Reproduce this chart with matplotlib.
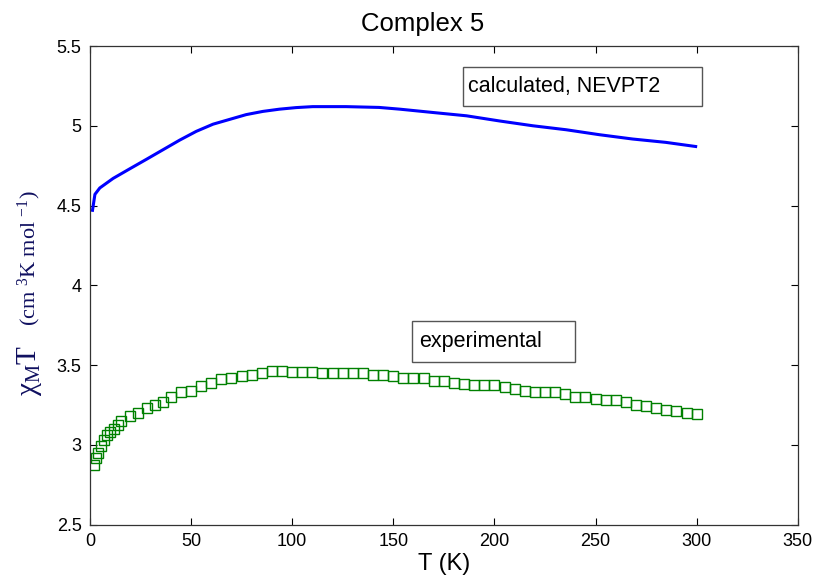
import numpy as np
import matplotlib
matplotlib.use('Agg')
import matplotlib.pyplot as plt
from matplotlib.patches import Rectangle

plt.rcParams['font.family'] = ['Liberation Sans', 'DejaVu Sans']
plt.rcParams['mathtext.fontset'] = 'custom'
plt.rcParams['mathtext.rm'] = 'Liberation Serif'
plt.rcParams['mathtext.it'] = 'Liberation Serif:italic'

# measured chi*T vs temperature
T_exp = [1.8, 3, 4, 5.4, 6.8, 8.4, 10, 12, 13.7, 15.3,
         20, 24, 28, 32, 36, 40, 45, 50, 55, 60, 65, 70, 75, 80, 85, 90,
         95, 100, 105, 110, 115, 120, 125, 130, 135, 140, 145, 150, 155,
         160, 165, 170, 175, 180, 185, 190, 195, 200, 205, 210, 215, 220,
         225, 230, 235, 240, 245, 250, 255, 260, 265, 270, 275, 280, 285,
         290, 295, 300]
chiT_exp = [2.875, 2.92, 2.95, 2.99, 3.03, 3.06, 3.08, 3.10, 3.125, 3.146,
            3.18, 3.20, 3.23, 3.25, 3.27, 3.30, 3.33, 3.34, 3.37, 3.39, 3.41,
            3.42, 3.43, 3.44, 3.45, 3.46, 3.46, 3.455, 3.455, 3.455, 3.45,
            3.45, 3.45, 3.45, 3.45, 3.44, 3.44, 3.43, 3.42, 3.42, 3.42, 3.40,
            3.40, 3.39, 3.38, 3.375, 3.375, 3.375, 3.365, 3.35, 3.34, 3.33,
            3.33, 3.33, 3.32, 3.30, 3.30, 3.29, 3.28, 3.28, 3.27, 3.25, 3.245,
            3.23, 3.22, 3.21, 3.20, 3.19]

# NEVPT2 curve
T_calc = [1.3, 2.5, 4.9, 11.5, 19.7, 28, 36.2, 44.4, 52.6, 60.9, 69.1, 77.3,
          85.5, 93.7, 102, 110.2, 126.6, 143, 153.3, 169.8, 186.2, 202.6,
          219, 235.5, 251.9, 268.3, 284.7, 299.5]
chiT_calc = [4.47, 4.57, 4.61, 4.67, 4.73, 4.79, 4.85, 4.91, 4.965, 5.01,
             5.04, 5.07, 5.09, 5.104, 5.114, 5.12, 5.12, 5.115, 5.104, 5.083,
             5.0625, 5.03, 5.0, 4.975, 4.944, 4.917, 4.896, 4.87]

fig = plt.figure(figsize=(8.17, 5.76), dpi=100)
ax = fig.add_axes([0.110, 0.0894, 0.8665, 0.8307])

ax.plot(T_calc, chiT_calc, color='#0000ff', lw=2.2)
ax.plot(T_exp, chiT_exp, ls='none', marker='s', ms=6.5, mfc='none',
        mec='#008000', mew=1.0)

ax.set_xlim(0, 350)
ax.set_ylim(2.5, 5.5)
ax.set_xticks(np.arange(0, 351, 50))
ax.set_yticks(np.arange(2.5, 5.51, 0.5))
ax.set_yticklabels(['2.5', '3', '3.5', '4', '4.5', '5', '5.5'])
ax.tick_params(direction='in', length=5, width=0.8, labelsize=13,
               top=True, right=True, pad=6)
for s in ax.spines.values():
    s.set_color('#333333')
    s.set_linewidth(0.9)

ax.set_xlabel('T (K)', fontsize=17, labelpad=2)
ax.set_title('Complex 5', fontsize=18.5, x=0.47, pad=11)

ylab = '#101060'
ax.text(-0.085, 0.323, r'$\mathrm{\chi_M T}$', rotation=90, fontsize=21,
        color=ylab, ha='center', va='center', transform=ax.transAxes)
ax.text(-0.085, 0.557, r'$\mathrm{(cm\ ^3 K\ mol\ ^{-1})}$', rotation=90,
        fontsize=16, color=ylab, ha='center', va='center',
        transform=ax.transAxes)

# text boxes labelling the two series
def label_box(x0, y0, w, h, tx, ty, txt):
    ax.add_patch(Rectangle((x0, y0), w, h, transform=ax.transAxes,
                           fc='white', ec='#555555', lw=1.0, zorder=5))
    ax.text(tx, ty, txt, fontsize=15.5, ha='left', va='center',
            transform=ax.transAxes, zorder=6)

label_box(0.5265, 0.8746, 0.3377, 0.0809, 0.5348, 0.9154,
          'calculated, NEVPT2')
label_box(0.4546, 0.3402, 0.2307, 0.0851, 0.4645, 0.3835,
          'experimental')

fig.savefig('out.png', dpi=100)
